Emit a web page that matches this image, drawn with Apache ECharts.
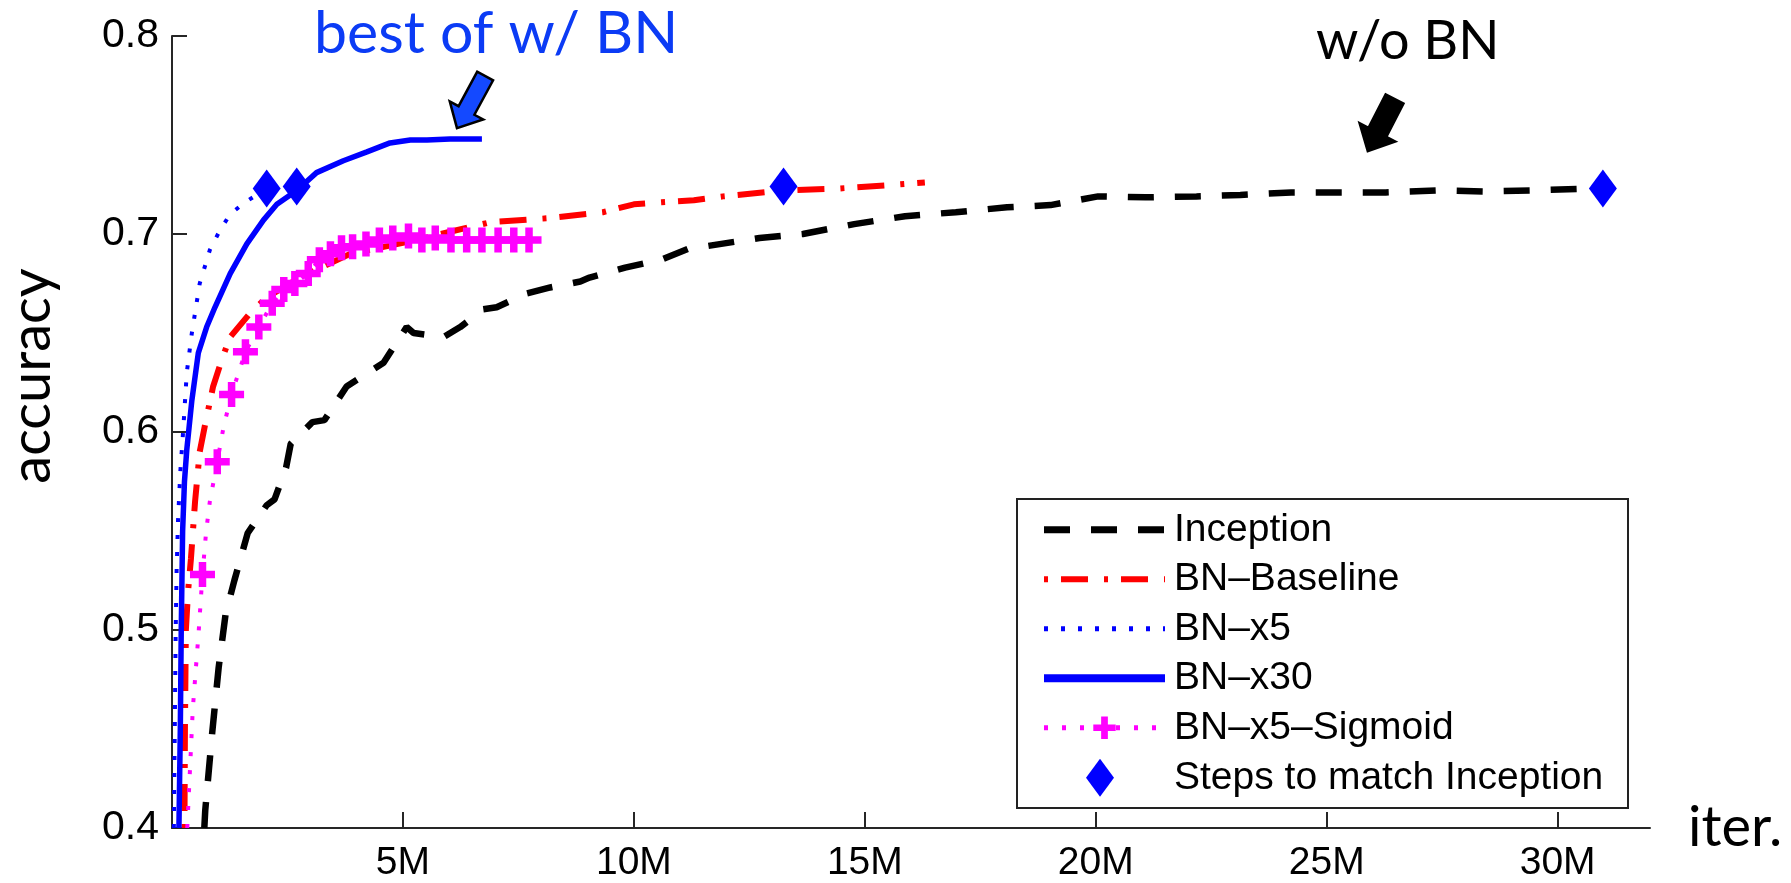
<!DOCTYPE html>
<html>
<head>
<meta charset="utf-8">
<title>accuracy vs iter.</title>
<script src="https://cdn.jsdelivr.net/npm/echarts@6/dist/echarts.min.js"></script>
<style>
  html, body { margin: 0; padding: 0; background: #fff; }
  #chart { width: 1791px; height: 883px; }
</style>
</head>
<body>
<div id="chart"></div>
<script>
// iterations are in millions
const incIter = [0.70, 0.72, 0.87, 1.01, 1.16, 1.35, 1.64, 2.05, 2.22, 2.47, 2.57, 3.04, 3.30, 3.78, 4.58, 5.08, 5.23, 5.88, 6.24, 6.74, 7.03, 7.68, 8.19, 8.84, 9.04, 9.81, 10.59, 11.17, 11.61, 12.72, 13.66, 14.77, 15.87, 16.97, 18.08, 19.02, 20.05, 21.08, 22.18, 23.13, 24.23, 25.25, 26.28, 27.38, 28.40, 29.43, 30.69, 31.00]
const incAcc = [0.400, 0.409, 0.448, 0.481, 0.508, 0.525, 0.549, 0.563, 0.566, 0.582, 0.594, 0.605, 0.606, 0.623, 0.635, 0.653, 0.650, 0.648, 0.653, 0.662, 0.663, 0.670, 0.673, 0.676, 0.678, 0.683, 0.687, 0.6925, 0.694, 0.698, 0.700, 0.705, 0.709, 0.711, 0.7135, 0.7146, 0.719, 0.7185, 0.719, 0.7197, 0.721, 0.721, 0.721, 0.722, 0.7215, 0.722, 0.723, 0.723]

const blIter = [0.27, 0.28, 0.30, 0.35, 0.41, 0.50, 0.60, 0.71, 0.89, 1.10, 1.26, 1.69, 2.05, 2.77, 3.86, 5.30, 6.00, 6.90, 8.17, 9.33, 10.00, 10.60, 11.30, 11.93, 13.24, 14.45, 15.72, 16.30]
const blAcc = [0.400, 0.450, 0.500, 0.520, 0.536, 0.565, 0.590, 0.603, 0.623, 0.638, 0.648, 0.660, 0.668, 0.678, 0.690, 0.697, 0.701, 0.706, 0.708, 0.711, 0.715, 0.716, 0.717, 0.719, 0.722, 0.723, 0.725, 0.726]

const x5Iter = [0.04, 0.06, 0.08, 0.10, 0.13, 0.18, 0.24, 0.32, 0.43, 0.60, 0.82, 1.04, 1.26, 1.58, 1.85, 2.05]
const x5Acc = [0.400, 0.450, 0.500, 0.530, 0.555, 0.580, 0.600, 0.630, 0.650, 0.675, 0.692, 0.702, 0.710, 0.716, 0.720, 0.723]

const x30Iter = [0.15, 0.18, 0.20, 0.23, 0.27, 0.32, 0.43, 0.57, 0.75, 0.93, 1.26, 1.62, 1.98, 2.27, 2.70, 3.13, 3.71, 4.22, 4.72, 5.16, 5.52, 6.02, 6.71]
const x30Acc = [0.400, 0.450, 0.500, 0.550, 0.575, 0.591, 0.616, 0.640, 0.653, 0.663, 0.680, 0.695, 0.707, 0.715, 0.722, 0.731, 0.737, 0.7415, 0.746, 0.7475, 0.7475, 0.748, 0.748]

const sigIter = [0.33, 0.45, 0.58, 0.66, 0.74, 0.82, 0.98, 1.12, 1.29, 1.59, 1.88, 2.17, 2.42, 2.66, 2.95, 3.19, 3.43, 3.67, 3.91, 4.20, 4.49, 4.78, 5.12, 5.41, 5.70, 6.04, 6.38, 6.71, 7.06, 7.40, 7.73]
const sigAcc = [0.400, 0.460, 0.500, 0.528, 0.550, 0.565, 0.585, 0.603, 0.619, 0.6405, 0.653, 0.665, 0.672, 0.675, 0.680, 0.687, 0.690, 0.693, 0.6935, 0.695, 0.697, 0.698, 0.699, 0.697, 0.698, 0.697, 0.697, 0.697, 0.697, 0.697, 0.697]
// 1 = point carries a "+" marker
const sigMark = [0, 0, 0, 1, 0, 0, 1, 0, 1, 1, 1, 1, 1, 1, 1, 1, 1, 1, 1, 1, 1, 1, 1, 1, 1, 1, 1, 1, 1, 1, 1]

const stepIter = [2.05, 2.70, 13.24, 30.98]
const stepAcc = [0.723, 0.724, 0.724, 0.723]

const xTicks = [5, 10, 15, 20, 25, 30]

const FONT = '"Liberation Sans", Arial, sans-serif'
const NOTE_FONT = 'Lato, "Open Sans", sans-serif'
const plusPath = 'path://M3.5,0h3v3.5h3.5v3h-3.5v3.5h-3v-3.5h-3.5v-3h3.5z'
const diamondPath = 'path://M14,0L28,19L14,38L0,19Z'

function pairs(xs, ys) {
  return xs.map((x, i) => [x, ys[i]])
}

const chart = echarts.init(document.getElementById('chart'), null, { renderer: 'canvas' })

const legendText = {
  fontFamily: FONT,
  fontSize: 39,
  color: '#000',
  lineHeight: 49.5,
  padding: [0, 0, 0, 4]
}
// line-only entries: hide the marker the legend puts in the middle
const noMark = { opacity: 0 }

const option = {
  animation: false,
  backgroundColor: '#fff',
  grid: {
    left: 172,
    right: 141,
    top: 36,
    bottom: 55,
    outerBoundsMode: 'none'
  },
  xAxis: {
    type: 'value',
    min: 0,
    max: 32,
    name: 'iter.',
    nameLocation: 'end',
    nameGap: 38,
    nameTextStyle: { fontFamily: NOTE_FONT, fontSize: 56, color: '#000', verticalAlign: 'middle' },
    axisLine: { show: true, onZero: false, lineStyle: { color: '#262626', width: 2 } },
    axisTick: { show: true, inside: true, length: 16, customValues: xTicks, lineStyle: { color: '#262626', width: 2 } },
    axisLabel: {
      customValues: xTicks,
      margin: 16,
      fontFamily: FONT,
      fontSize: 39,
      color: '#000',
      formatter: v => v + 'M'
    },
    splitLine: { show: false }
  },
  yAxis: {
    type: 'value',
    min: 0.4,
    max: 0.8,
    interval: 0.1,
    axisLine: { show: true, onZero: false, lineStyle: { color: '#262626', width: 2 } },
    axisTick: { show: true, inside: true, length: 15, lineStyle: { color: '#262626', width: 2 } },
    axisLabel: {
      margin: 13,
      fontFamily: FONT,
      fontSize: 41,
      color: '#000',
      formatter: v => v.toFixed(1)
    },
    splitLine: { show: false }
  },
  legend: [
    {
      orient: 'vertical',
      left: 1040,
      top: 505,
      padding: 0,
      itemGap: 0,
      itemWidth: 121,
      itemHeight: 28,
      selectedMode: false,
      textStyle: legendText,
      data: [
        { name: 'Inception', itemStyle: noMark, lineStyle: { width: 7 } },
        { name: 'BN–Baseline', itemStyle: noMark, lineStyle: { width: 6 } },
        { name: 'BN–x5', itemStyle: noMark, lineStyle: { width: 5 } },
        { name: 'BN–x30', itemStyle: noMark, lineStyle: { width: 8 } },
        { name: 'BN–x5–Sigmoid', lineStyle: { width: 5 } }
      ]
    },
    {
      orient: 'vertical',
      left: 1086,
      top: 753,
      padding: 0,
      itemWidth: 28,
      itemHeight: 38,
      selectedMode: false,
      textStyle: Object.assign({}, legendText, { padding: [0, 0, 0, 55] }),
      data: [{ name: 'Steps to match Inception', icon: diamondPath, itemStyle: { color: '#0000ff', opacity: 1, borderWidth: 0 } }]
    }
  ],
  series: [
    {
      name: 'Inception',
      type: 'line',
      symbol: 'none',
      data: pairs(incIter, incAcc),
      lineStyle: { color: '#000', width: 6.5, type: [26, 21] },
      itemStyle: { color: '#000' },
      z: 2
    },
    {
      name: 'BN–Baseline',
      type: 'line',
      symbol: 'none',
      data: pairs(blIter, blAcc),
      lineStyle: { color: '#ff0000', width: 6, type: [4, 13, 27, 16] },
      itemStyle: { color: '#ff0000' },
      z: 3
    },
    {
      name: 'BN–x5',
      type: 'line',
      symbol: 'none',
      data: pairs(x5Iter, x5Acc),
      lineStyle: { color: '#0000ff', width: 4, type: [4, 13] },
      itemStyle: { color: '#0000ff' },
      z: 4
    },
    {
      name: 'BN–x30',
      type: 'line',
      symbol: 'none',
      data: pairs(x30Iter, x30Acc),
      lineStyle: { color: '#0000ff', width: 5.5 },
      itemStyle: { color: '#0000ff' },
      z: 5
    },
    {
      name: 'BN–x5–Sigmoid',
      type: 'line',
      symbol: plusPath,
      symbolSize: 25,
      showSymbol: true,
      data: sigIter.map((x, i) => ({
        value: [x, sigAcc[i]],
        symbol: sigMark[i] ? plusPath : 'none'
      })),
      lineStyle: { color: '#ff00ff', width: 4, type: [4, 14] },
      itemStyle: { color: '#ff00ff', borderWidth: 0 },
      z: 6
    },
    {
      name: 'Steps to match Inception',
      type: 'scatter',
      symbol: diamondPath,
      symbolSize: [28, 38],
      data: pairs(stepIter, stepAcc),
      itemStyle: { color: '#0000ff', opacity: 1, borderWidth: 0 },
      z: 7
    }
  ]
}

chart.setOption(option)

// annotations: block arrows placed in data space, texts placed on the page
const arrows = [
  { tail: [6.78, 0.7798], tip: [6.17, 0.7535], fill: '#1449ff', stroke: '#000', shaft: 18, head: 38, headLen: 20 },
  { tail: [26.47, 0.7682], tip: [25.89, 0.7419], fill: '#000', stroke: '#000', shaft: 20, head: 40, headLen: 21 }
]

function arrowPoints(a) {
  const p0 = chart.convertToPixel({ gridIndex: 0 }, a.tail)
  const p1 = chart.convertToPixel({ gridIndex: 0 }, a.tip)
  const dx = p1[0] - p0[0]
  const dy = p1[1] - p0[1]
  const len = Math.sqrt(dx * dx + dy * dy)
  const ux = dx / len, uy = dy / len
  const nx = -uy, ny = ux
  const bx = p1[0] - ux * a.headLen
  const by = p1[1] - uy * a.headLen
  const s = a.shaft / 2, h = a.head / 2
  return [
    [p0[0] + nx * s, p0[1] + ny * s],
    [bx + nx * s, by + ny * s],
    [bx + nx * h, by + ny * h],
    [p1[0], p1[1]],
    [bx - nx * h, by - ny * h],
    [bx - nx * s, by - ny * s],
    [p0[0] - nx * s, p0[1] - ny * s]
  ]
}

const graphic = [
  {
    type: 'rect',
    shape: { x: 1017, y: 499, width: 611, height: 309 },
    style: { fill: '#fff', stroke: '#222', lineWidth: 2 },
    z: 3
  },
  {
    type: 'text',
    x: 32,
    y: 376,
    rotation: Math.PI / 2,
    style: { text: 'accuracy', fill: '#000', fontFamily: NOTE_FONT, fontSize: 56, align: 'center', verticalAlign: 'middle' }
  },
  {
    type: 'text',
    x: 314,
    y: 34,
    style: { text: 'best of w/ BN', fill: '#0b3bf5', fontFamily: NOTE_FONT, fontSize: 59, align: 'left', verticalAlign: 'middle' }
  },
  {
    type: 'text',
    x: 1316,
    y: 42,
    style: { text: 'w/o BN', fill: '#000', fontFamily: NOTE_FONT, fontSize: 54, align: 'left', verticalAlign: 'middle' }
  }
]

arrows.forEach(a => {
  graphic.push({
    type: 'polygon',
    shape: { points: arrowPoints(a) },
    style: { fill: a.fill, stroke: a.stroke, lineWidth: 2.5, lineJoin: 'miter' },
    z: 10
  })
})

chart.setOption({ graphic: graphic })
</script>
</body>
</html>
